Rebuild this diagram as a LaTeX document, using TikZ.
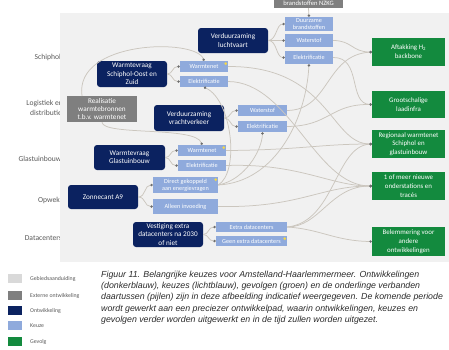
\documentclass[tikz,border=0pt]{standalone}
\usepackage{fontspec}
\setmainfont{Carlito}
\newfontfamily\capfont{Liberation Sans}
\usetikzlibrary{arrows.meta}
\definecolor{cNavy}{HTML}{0B2260}
\definecolor{cKeuze}{HTML}{8FAADC}
\definecolor{cGevolg}{HTML}{138A3E}
\definecolor{cExt}{HTML}{7F7F7F}
\definecolor{cPanel}{HTML}{F1F1F1}
\definecolor{cLine}{HTML}{CBC6BE}
\definecolor{cDot}{HTML}{6E6E6E}
\definecolor{cLab}{HTML}{5A5A5A}
\definecolor{cLeg}{HTML}{D9D9D9}
\definecolor{cBulb}{HTML}{F2D64B}
\definecolor{cCap}{HTML}{2B2B2B}
\begin{document}
\begin{tikzpicture}[x=1pt,y=-1pt,
  dev/.style={fill=cNavy, rounded corners=3pt, text=white, align=center, inner sep=0.5pt, font=\fontsize{7.2}{8.4}\selectfont},
  keuze/.style={fill=cKeuze, text=white, align=center, inner sep=0.3pt, font=\fontsize{6.2}{6.8}\selectfont},
  gevolg/.style={fill=cGevolg, text=white, align=center, inner sep=0.5pt, font=\fontsize{6.9}{8.8}\selectfont},
  extern/.style={fill=cExt, text=white, align=center, inner sep=0.5pt, font=\fontsize{7.2}{8.4}\selectfont},
  rowlab/.style={anchor=east, text=cLab, inner sep=0pt, font=\fontsize{7.6}{8.6}\selectfont},
  leglab/.style={anchor=west, text=cLab, inner sep=0pt, font=\fontsize{5.8}{6.5}\selectfont},
  conn/.style={draw=cLine, line width=0.75pt, -{Circle[length=2.4pt,color=cDot]}},
  bulb/.style={fill=cBulb},
  capline/.style={anchor=west, inner sep=0pt, text=cCap, font=\capfont\itshape\fontsize{8.8}{10}\selectfont}
]
\useasboundingbox (0,0) rectangle (449,349);
\clip (0,0) rectangle (449,349);
\fill[white] (0,0) rectangle (449,349);

% row labels (partly covered by the panel)
\node[rowlab] (lschiphol) at (61,57) {Schiphol};
\node[rowlab] (llog1) at (63,104) {Logistiek en};
\node[rowlab] (llog2) at (62,113) {distributie};
\node[rowlab] (lglas) at (61.5,159) {Glastuinbouw};
\node[rowlab] (lopwek) at (60,200) {Opwek};
\node[rowlab] (ldata) at (62,238) {Datacenters};

% panel
\fill[cPanel] (60,13) rectangle (449,262);

% external development at the top
\node[extern, minimum width=69, minimum height=20] (ext) at (308.5,-2) {};
\node[text=white, inner sep=0pt, font=\fontsize{6.6}{7.6}\selectfont] (exttxt) at (308.5,3) {brandstoffen NZKG};

% developments
\node[dev, minimum width=70, minimum height=25] (lv) at (233,40.5) {Verduurzaming\\luchtvaart};
\node[dev, minimum width=70, minimum height=26] (wso) at (132,74) {Warmtevraag\\Schiphol-Oost en\\Zuid};
\node[extern, minimum width=70, minimum height=26] (rb) at (102,109) {Realisatie\\warmtebronnen\\t.b.v. warmtenet};
\node[dev, minimum width=70, minimum height=26] (vv) at (189,118) {Verduurzaming\\vrachtverkeer};
\node[dev, minimum width=71, minimum height=25] (wg) at (129.5,157.5) {Warmtevraag\\Glastuinbouw};
\node[dev, minimum width=70, minimum height=24] (za) at (103,197) {Zonnecant A9};
\node[dev, minimum width=70, minimum height=25] (dc) at (168,234.5) {Vestiging extra\\datacenters na 2030\\of niet};

% choices
\node[keuze, minimum width=48, minimum height=14] (db) at (309,24) {Duurzame\\brandstoffen};
\node[keuze, minimum width=48, minimum height=13] (ws1) at (309,40.5) {Waterstof};
\node[keuze, minimum width=48, minimum height=13] (el1) at (309,57.5) {Elektrificatie};
\node[keuze, minimum width=48, minimum height=11] (wn1) at (204,66.5) {Warmtenet};
\node[keuze, minimum width=48, minimum height=11] (el2) at (204,81.5) {Elektrificatie};
\node[keuze, minimum width=49, minimum height=11] (ws2) at (262.5,110.5) {Waterstof};
\node[keuze, minimum width=49, minimum height=11] (el3) at (262.5,126.5) {Elektrificatie};
\node[keuze, minimum width=48, minimum height=11] (wn2) at (202,150.5) {Warmtenet};
\node[keuze, minimum width=48, minimum height=11] (el4) at (202,165.5) {Elektrificatie};
\node[keuze, minimum width=65, minimum height=16] (dg) at (185.5,185) {Direct gekoppeld\\aan energievragen};
\node[keuze, minimum width=65, minimum height=15] (ai) at (185.5,206.5) {Alleen invoeding};
\node[keuze, minimum width=71, minimum height=10] (ed) at (251.5,227) {Extra datacenters};
\node[keuze, minimum width=71, minimum height=10] (gd) at (251.5,241) {Geen extra datacenters};

% consequences
\node[gevolg, minimum width=73, minimum height=28] (ah) at (408.5,52) {Aftakking H\textsubscript{2}\\backbone};
\node[gevolg, minimum width=73, minimum height=27] (gl) at (408.5,104.5) {Grootschalige\\laadinfra};
\node[gevolg, minimum width=73, minimum height=28] (rw) at (408.5,144) {Regionaal warmtenet\\Schiphol en\\glastuinbouw};
\node[gevolg, minimum width=73, minimum height=28] (os) at (408.5,186) {1 of meer nieuwe\\onderstations en\\trac\'es};
\node[gevolg, minimum width=73, minimum height=29] (be) at (408.5,241.5) {Belemmering voor\\andere\\ontwikkelingen};

% bulbs
\fill[bulb] ([xshift=-2.5pt,yshift=-2.8pt]wn1.north east) circle (1.5pt);
\fill[bulb] ([xshift=-2.5pt,yshift=-2.8pt]wn2.north east) circle (1.5pt);
\fill[bulb] ([xshift=-2.5pt,yshift=-2.8pt]dg.north east) circle (1.5pt);
\fill[bulb] ([xshift=-2.5pt,yshift=-2.8pt]gd.north east) circle (1.5pt);

% branch connectors
\draw[conn] (ext.south) -- (db.north);
\draw[conn] (lv.east) .. controls (277,40) and (276,24) .. (db.west);
\draw[conn] (lv.east) -- (ws1.west);
\draw[conn] (lv.east) .. controls (277,40) and (276,57.5) .. (el1.west);
\draw[conn] (wso.east) .. controls (173,74) and (172,66.5) .. (wn1.west);
\draw[conn] (wso.east) .. controls (173,74) and (172,81.5) .. (el2.west);
\draw[conn] (vv.east) .. controls (231,118) and (230,110.5) .. (ws2.west);
\draw[conn] (vv.east) .. controls (231,118) and (230,126.5) .. (el3.west);
\draw[conn] (wg.east) .. controls (171,157.5) and (170,150.5) .. (wn2.west);
\draw[conn] (wg.east) .. controls (171,157.5) and (170,165.5) .. (el4.west);
\draw[conn] (za.east) .. controls (146,197) and (144,185) .. (dg.west);
\draw[conn] (za.east) .. controls (146,197) and (144,206.5) .. (ai.west);
\draw[conn] (dc.east) .. controls (209,234.5) and (208,227) .. (ed.west);
\draw[conn] (dc.east) .. controls (209,234.5) and (208,241) .. (gd.west);

% cross connectors
\draw[conn] (ws1.east) .. controls (352,40.5) and (352,52) .. (ah.west);
\draw[conn] (ws2.east) .. controls (330,110) and (325,55) .. (ah.west);
\draw[conn] (el1.east) .. controls (362,57) and (348,104) .. (gl.west);
\draw[conn] (el3.east) .. controls (330,126) and (330,104) .. (gl.west);
\draw[conn] (wn1.east) .. controls (330,66) and (330,144) .. (rw.west);
\draw[conn] (el2.east) .. controls (290,82) and (315,186) .. (os.west);
\draw[conn] (wn2.east) .. controls (300,150) and (320,144) .. (rw.west);
\draw[conn] (el4.east) .. controls (300,163) and (330,186) .. (os.west);
\draw[conn] (ai.east) .. controls (300,208) and (320,186) .. (os.west);
\draw[conn] (ed.east) .. controls (320,227) and (330,186) .. (os.west);
\draw[conn] (ed.east) .. controls (335,222) and (335,146) .. (rw.west);
\draw[conn] (ed.east) .. controls (320,229) and (335,241) .. (be.west);
\coordinate (rbtop) at (82,96);
\draw[conn] (rbtop) .. controls (74,40) and (196,38) .. (wn1.north);
\draw[conn] (rb.south) .. controls (103,136) and (196,126) .. (wn2.north);
\draw[conn] (dg.east) .. controls (240,172) and (232,100) .. (el2.south);
\draw[conn] (dg.east) .. controls (245,180) and (262,150) .. (el3.south);
\draw[conn] (dg.east) .. controls (275,182) and (306,120) .. (el1.south);

% legend
\fill[cLeg] (8,274) rectangle (22,283);
\fill[cExt] (8,291) rectangle (22,300);
\fill[cNavy] (8,306) rectangle (22,315);
\fill[cKeuze] (8,321) rectangle (22,330);
\fill[cGevolg] (8,337) rectangle (22,346);
\node[leglab] (lg1) at (30,278.5) {Gebiedsaanduiding};
\node[leglab] (lg2) at (30,295.5) {Externe ontwikkeling};
\node[leglab] (lg3) at (30,310.5) {Ontwikkeling};
\node[leglab] (lg4) at (30,325.5) {Keuze};
\node[leglab] (lg5) at (30,341.5) {Gevolg};

% caption
\node[capline] (c1) at (101,275) {Figuur 11. Belangrijke keuzes voor Amstelland-Haarlemmermeer. Ontwikkelingen};
\node[capline] (c2) at (101,286.3) {(donkerblauw), keuzes (lichtblauw), gevolgen (groen) en de onderlinge verbanden};
\node[capline] (c3) at (101,297.6) {daartussen (pijlen) zijn in deze afbeelding indicatief weergegeven. De komende periode};
\node[capline] (c4) at (101,308.9) {wordt gewerkt aan een preciezer ontwikkelpad, waarin ontwikkelingen, keuzes en};
\node[capline] (c5) at (101,320.2) {gevolgen verder worden uitgewerkt en in de tijd zullen worden uitgezet.};
\end{tikzpicture}
\end{document}
